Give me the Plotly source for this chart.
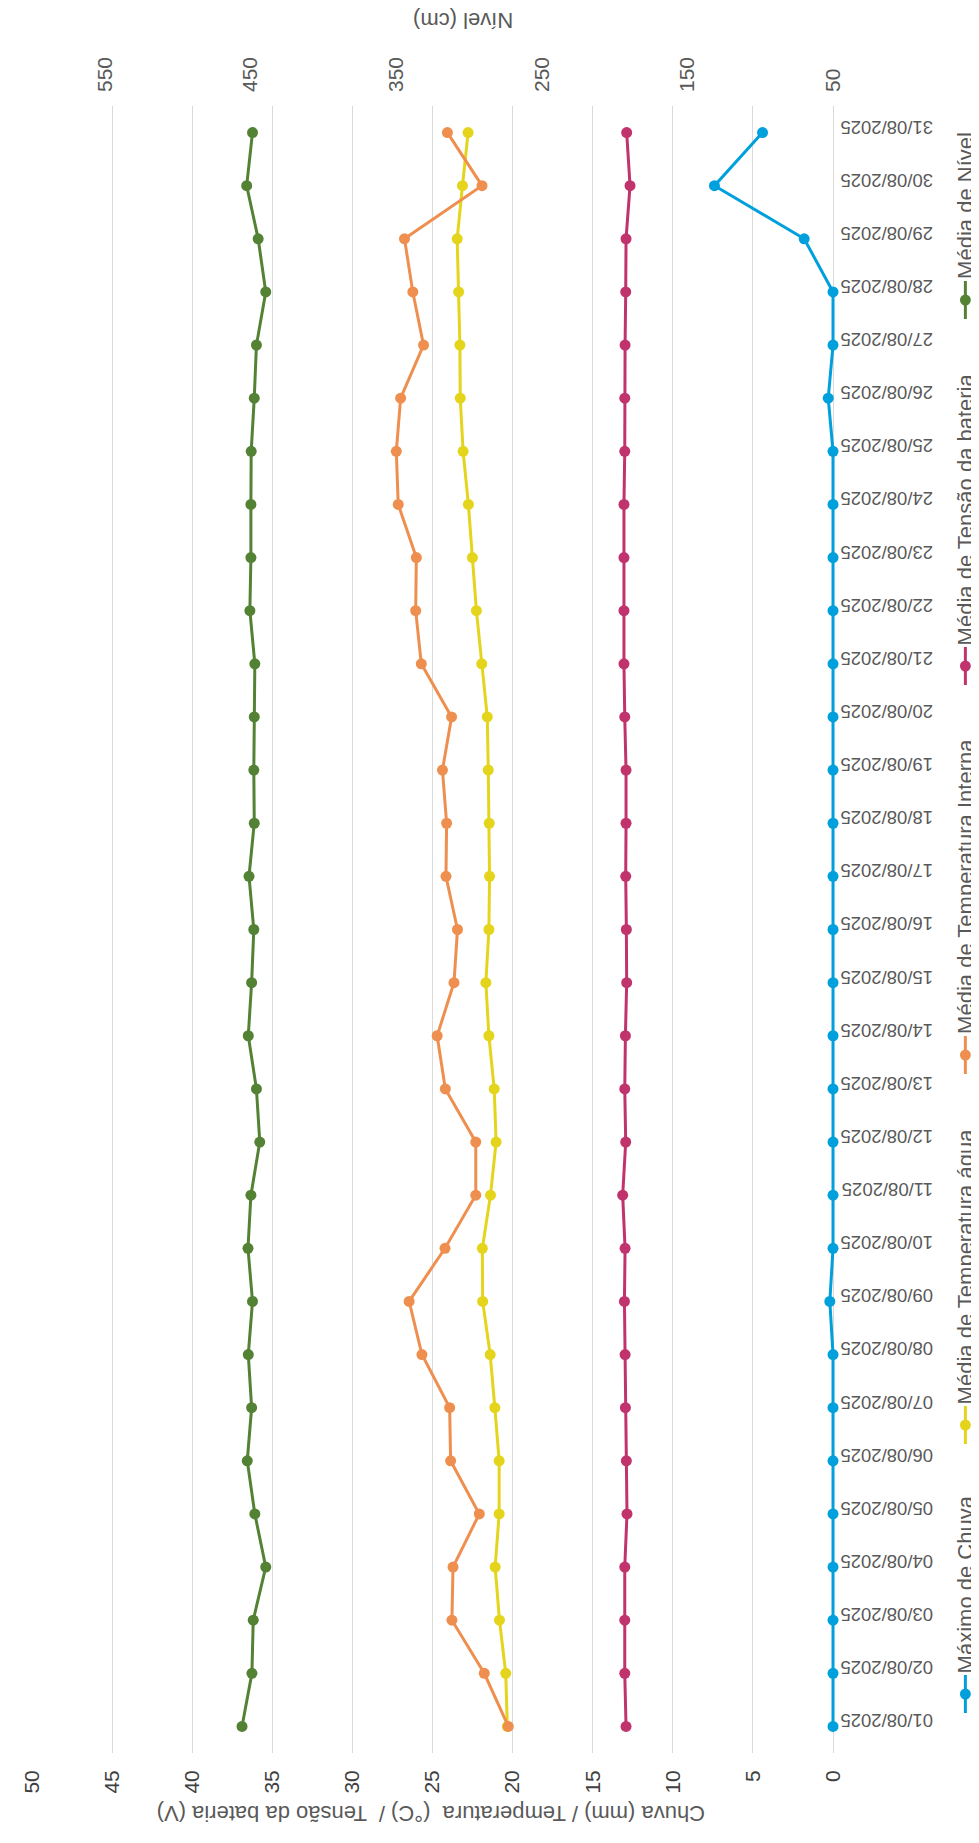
import plotly.graph_objects as go

# ---------------- data ----------------
dates = ['01/08/2025', '02/08/2025', '03/08/2025', '04/08/2025', '05/08/2025', '06/08/2025',
         '07/08/2025', '08/08/2025', '09/08/2025', '10/08/2025', '11/08/2025', '12/08/2025',
         '13/08/2025', '14/08/2025', '15/08/2025', '16/08/2025', '17/08/2025', '18/08/2025',
         '19/08/2025', '20/08/2025', '21/08/2025', '22/08/2025', '23/08/2025', '24/08/2025',
         '25/08/2025', '26/08/2025', '27/08/2025', '28/08/2025', '29/08/2025', '30/08/2025',
         '31/08/2025']

chuva = [0, 0, 0, 0, 0, 0, 0, 0, 0.2, 0, 0, 0, 0, 0, 0, 0, 0, 0, 0, 0, 0, 0, 0, 0, 0,
         0.3, 0, 0, 1.8, 7.4, 4.4]
temp_agua = [20.33, 20.43, 20.82, 21.09, 20.84, 20.84, 21.11, 21.40, 21.87, 21.89, 21.38,
             21.03, 21.15, 21.48, 21.67, 21.48, 21.44, 21.46, 21.52, 21.58, 21.93, 22.26,
             22.51, 22.76, 23.09, 23.27, 23.29, 23.37, 23.46, 23.13, 22.78]
temp_interna = [20.27, 21.77, 23.79, 23.72, 22.08, 23.87, 23.93, 25.66, 26.46, 24.22, 22.30,
                22.30, 24.20, 24.71, 23.66, 23.44, 24.16, 24.12, 24.38, 23.81, 25.70, 26.05,
                26.01, 27.14, 27.26, 26.99, 25.56, 26.23, 26.75, 21.91, 24.07]
tensao = [12.92, 13.00, 13.00, 13.00, 12.86, 12.90, 12.96, 12.98, 13.02, 12.98, 13.13,
          12.94, 13.00, 12.96, 12.88, 12.90, 12.94, 12.92, 12.92, 13.00, 13.05, 13.05,
          13.05, 13.05, 13.00, 13.00, 12.98, 12.94, 12.92, 12.67, 12.88]
nivel = [455.8, 449.0, 448.1, 439.5, 447.0, 452.2, 449.2, 451.5, 448.6, 451.7, 449.7,
         443.6, 445.9, 451.5, 449.2, 447.7, 451.0, 447.4, 447.7, 447.4, 447.0, 450.4,
         449.7, 449.7, 449.5, 447.4, 445.9, 439.5, 444.7, 452.6, 448.6]

series_names = ['Máximo de Chuva', 'Média de Temperatura água', 'Média de Temperatura Interna',
                'Média de Tensão da bateria', 'Média de Nível']
primary_ticks = [0, 5, 10, 15, 20, 25, 30, 35, 40, 45, 50]
secondary_ticks = [50, 150, 250, 350, 450, 550]
primary_range = [50, 0]
secondary_range = [600, 50]

# ---------------- styling ----------------
PAGE_OFF = 8                      # default body margin of the html page
W, H = 979 - PAGE_OFF, 1843 - PAGE_OFF
X_LEFT, X_ZERO, X_RIGHT = 22, 833, 835   # screen px: value 50 edge, value 0 line, plot edge
Y_TOP, Y_BOT = 106, 1753
ML, MT = X_LEFT - PAGE_OFF, Y_TOP - PAGE_OFF
MR = W - (X_RIGHT - PAGE_OFF)
MB = H - (Y_BOT - PAGE_OFF)
PW, PH = W - ML - MR, H - MT - MB
FONT = 'Liberation Sans, Arial, sans-serif'
GREY = '#595959'
colors = ['#00A0DC', '#E4D51C', '#EF8F4F', '#C1336C', '#548235']

# extend the ranges a hair past the 0 / 50 cm line so the line on it is not clipped
ext = (X_RIGHT - X_ZERO) / (X_ZERO - X_LEFT)
p_rng = [primary_range[0], primary_range[1] - ext * (primary_range[0] - primary_range[1])]
s_rng = [secondary_range[0], secondary_range[1] - ext * (secondary_range[0] - secondary_range[1])]


def px_x(px):
    """screen x (px) -> paper fraction"""
    return (px - PAGE_OFF - ML) / PW


def px_y(py):
    """screen y (px) -> paper fraction"""
    return (MT + PH - (py - PAGE_OFF)) / PH


fig = go.Figure()
values = [chuva, temp_agua, temp_interna, tensao, nivel]
axes = ['x', 'x', 'x', 'x', 'x2']
for name, vals, col, ax in zip(series_names, values, colors, axes):
    fig.add_trace(go.Scatter(
        x=vals, y=dates, xaxis=ax, yaxis='y', name=name, mode='lines+markers',
        line=dict(color=col, width=3), marker=dict(color=col, size=11),
        cliponaxis=False, showlegend=False))

fig.update_layout(
    width=W, height=H, autosize=False,
    margin=dict(l=ML, r=MR, t=MT, b=MB, pad=0),
    paper_bgcolor='white', plot_bgcolor='white',
    font=dict(family=FONT, color=GREY),
    xaxis=dict(range=p_rng, tickvals=primary_ticks, ticktext=[str(v) for v in primary_ticks],
               tickangle=-90, side='bottom', showgrid=True, gridcolor='#D9D9D9', gridwidth=1,
               zeroline=False, showline=False, ticks='', ticklabelstandoff=12,
               tickfont=dict(family=FONT, size=21, color='#404040')),
    xaxis2=dict(range=s_rng, tickvals=secondary_ticks,
                ticktext=[str(v) for v in secondary_ticks], overlaying='x', side='top',
                tickangle=-90, showgrid=False, zeroline=False, showline=False, ticks='',
                ticklabelstandoff=13, tickfont=dict(family=FONT, size=21, color=GREY)),
    yaxis=dict(type='category', categoryorder='array', categoryarray=dates,
               range=[-0.5, len(dates) - 0.5], side='right', tickangle=180,
               showgrid=False, zeroline=False, showline=False, ticks='',
               ticklabelstandoff=97, tickfont=dict(family=FONT, size=18.5, color=GREY)),
)

annotations = [
    dict(text='Chuva (mm) / Temperatura\u00a0 (°C) /\u00a0 Tensão da bateria (V)',
         x=px_x(426), y=px_y(1813), xref='paper', yref='paper', showarrow=False,
         textangle=180, xanchor='center', yanchor='middle',
         font=dict(family=FONT, size=22, color=GREY)),
    dict(text='Nível (cm)', x=px_x(459), y=px_y(20), xref='paper', yref='paper',
         showarrow=False, textangle=180, xanchor='center', yanchor='middle',
         font=dict(family=FONT, size=22, color=GREY)),
]

# legend (rotated): symbol centre positions in screen px
legend_centres = [1694, 1425, 1055, 666, 300]
legend_x = 967
shapes = []
for name, col, cy in zip(series_names, colors, legend_centres):
    shapes.append(dict(type='line', xref='paper', yref='paper',
                       x0=px_x(legend_x), x1=px_x(legend_x),
                       y0=px_y(cy - 19), y1=px_y(cy + 19),
                       line=dict(color=col, width=3)))
    shapes.append(dict(type='circle', xref='paper', yref='paper',
                       x0=px_x(legend_x - 5.5), x1=px_x(legend_x + 5.5),
                       y0=px_y(cy - 5.5), y1=px_y(cy + 5.5),
                       fillcolor=col, line=dict(color=col, width=0)))
    annotations.append(dict(text=name, x=px_x(legend_x), y=px_y(cy - 21),
                            xref='paper', yref='paper', showarrow=False, textangle=-90,
                            xanchor='center', yanchor='bottom', borderpad=0, borderwidth=0,
                            font=dict(family=FONT, size=22, color=GREY)))

fig.update_layout(annotations=annotations, shapes=shapes)

fig.write_html('out.html')
